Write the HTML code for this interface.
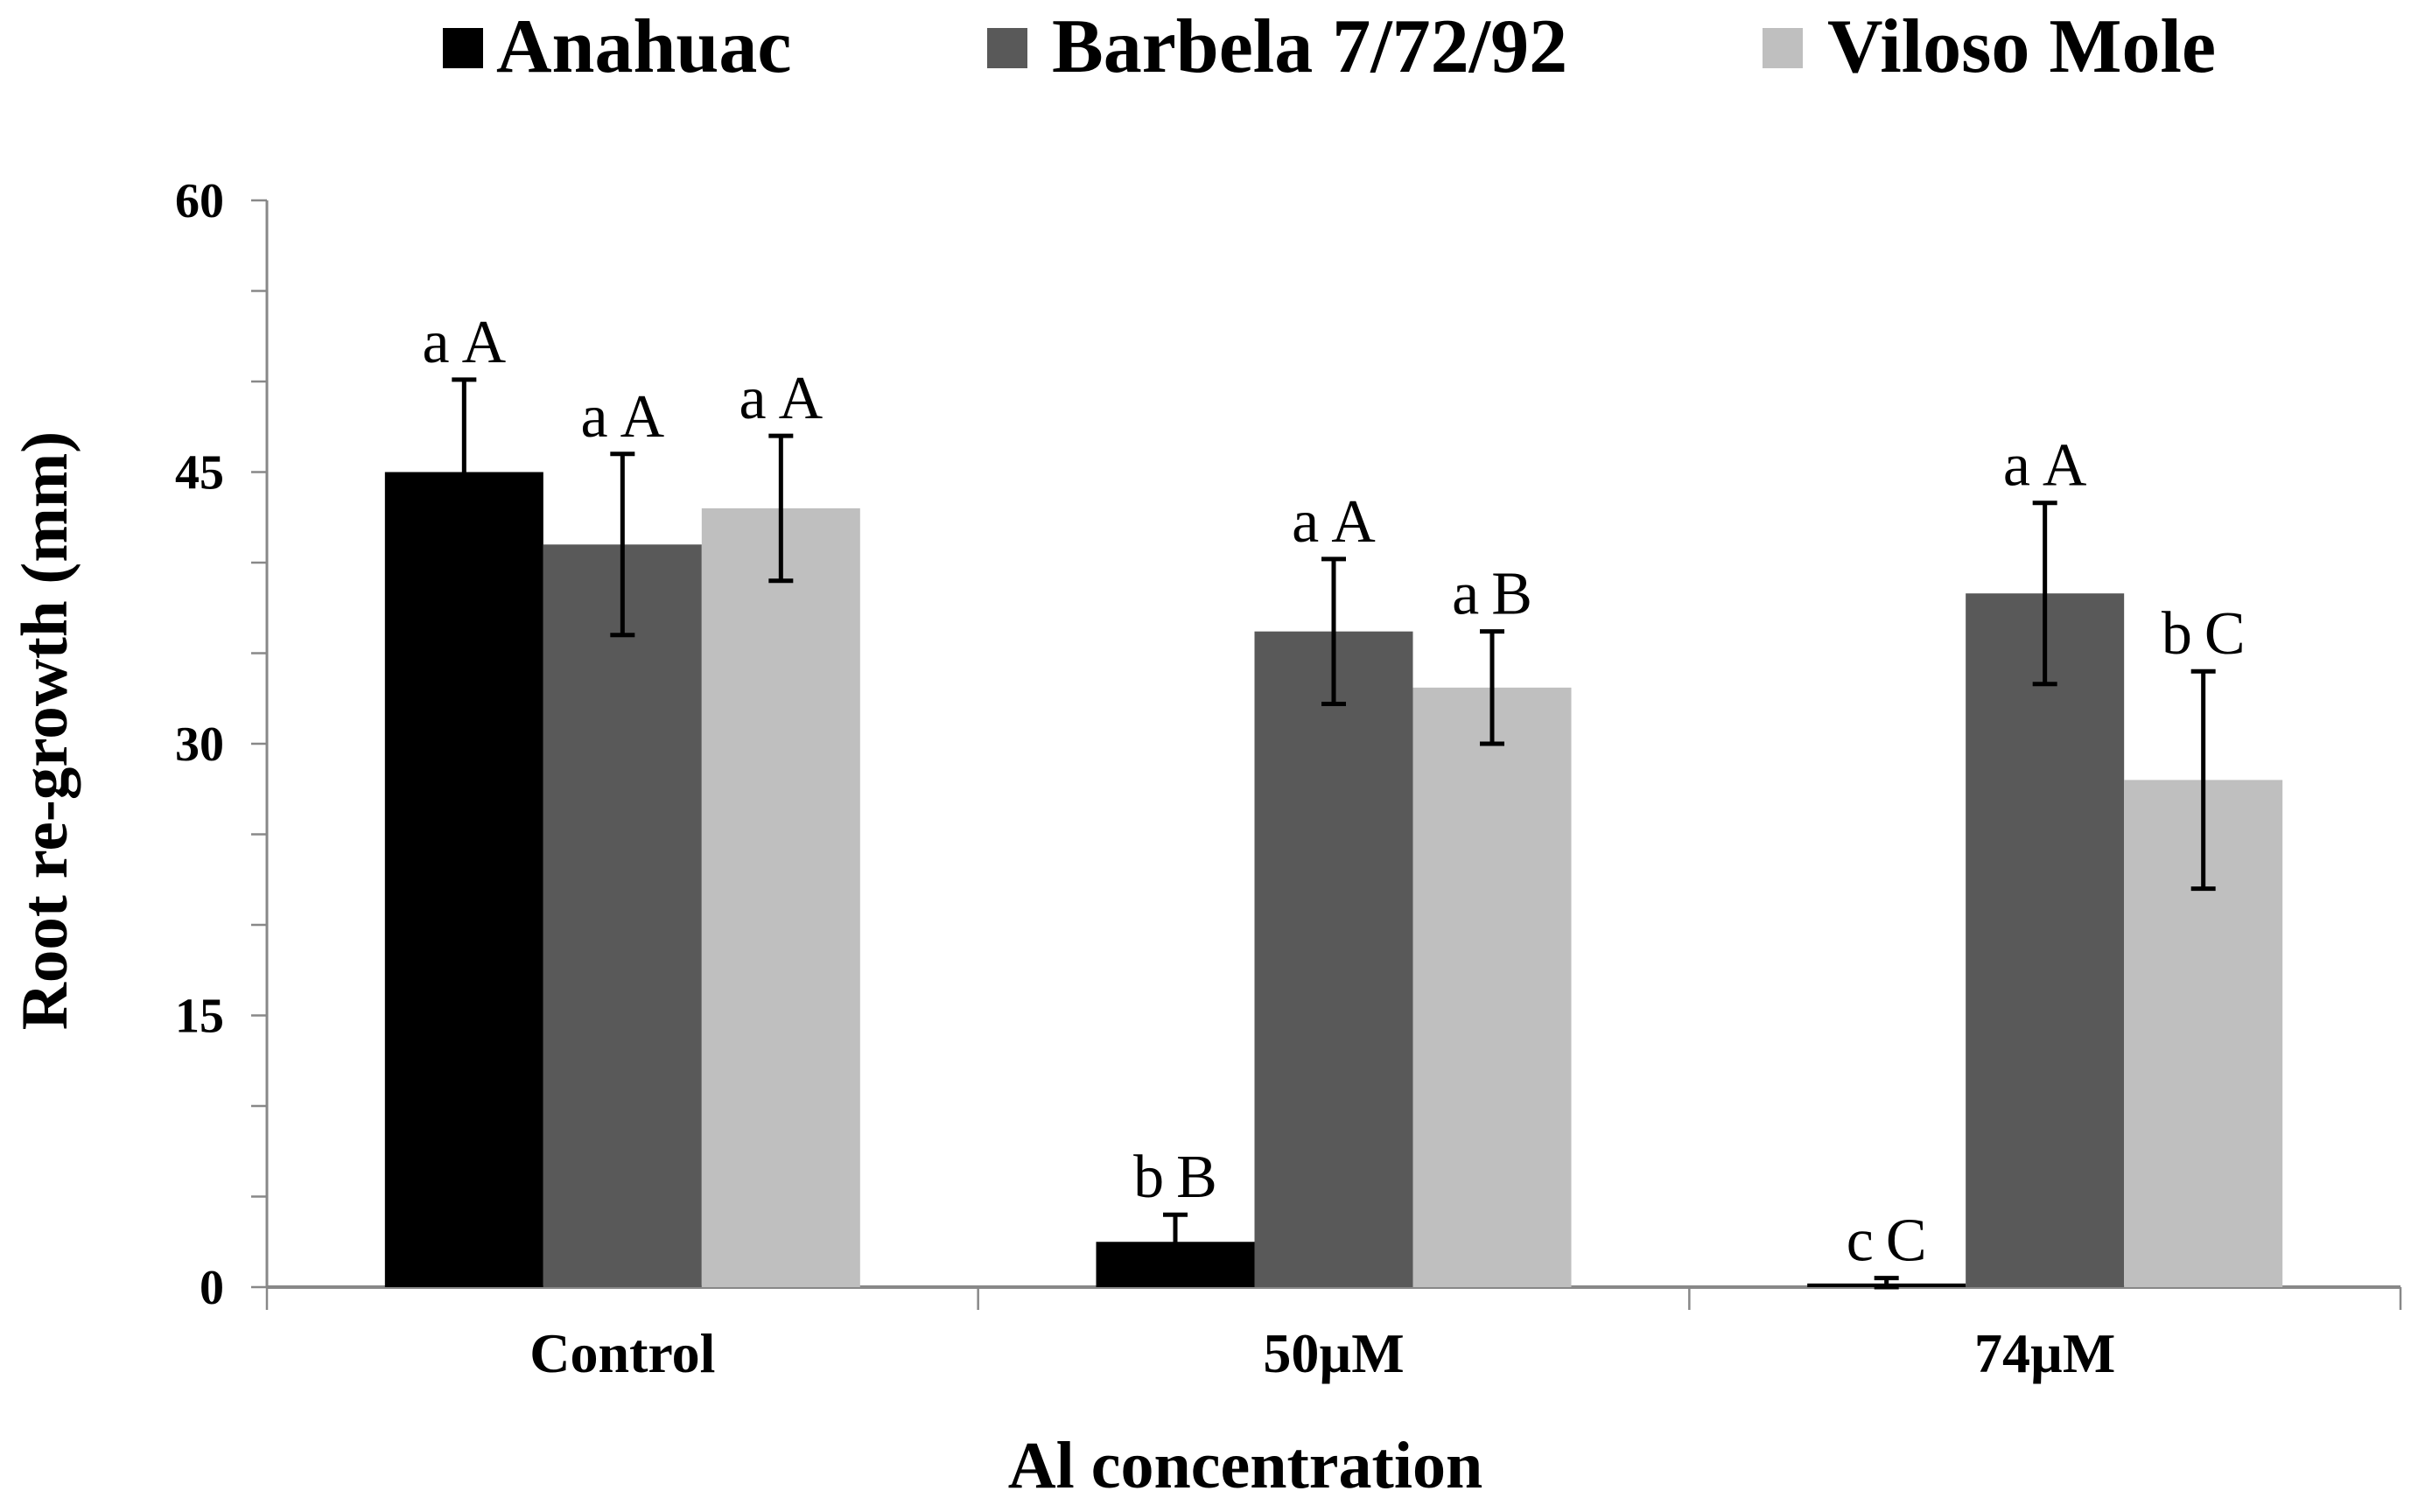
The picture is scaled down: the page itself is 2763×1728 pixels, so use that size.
<!DOCTYPE html>
<html><head><meta charset="utf-8"><style>
html,body{margin:0;padding:0;background:#fff;}
svg{display:block;font-family:"Liberation Serif",serif;}
</style></head><body>
<svg id="chart" width="2763" height="1728" viewBox="0 0 2763 1728" xmlns="http://www.w3.org/2000/svg">
<g id="legend">
 <g><rect x="506" y="32" width="46" height="46" fill="#000"/><text x="567" y="82" font-size="88" font-weight="bold">Anahuac</text></g>
 <g><rect x="1128" y="32" width="46" height="46" fill="#595959"/><text x="1202" y="82" font-size="88" font-weight="bold">Barbela 7/72/92</text></g>
 <g><rect x="2014" y="32" width="46" height="46" fill="#bfbfbf"/><text x="2088" y="82" font-size="88" font-weight="bold">Viloso Mole</text></g>
</g>
<g id="axes"></g>
<g id="bars"></g>
<text transform="translate(76,835) rotate(-90)" text-anchor="middle" font-size="75" font-weight="bold">Root re-growth (mm)</text>
<text x="1423" y="1700" text-anchor="middle" font-size="76" font-weight="bold">Al concentration</text>
</svg>
<script>
const categories = ["Control", "50\u00b5M", "74\u00b5M"];
const seriesNames = ["Anahuac", "Barbela 7/72/92", "Viloso Mole"];
const anahuac = [45, 2.5, 0.2];
const barbela = [41, 36.2, 38.3];
const viloso = [43, 33.1, 28];
const anahuacErr = [5.1, 1.5, 0.3];
const barbelaErr = [5, 4, 5];
const vilosoErr = [4, 3.1, 6];
const anahuacLabels = ["aA", "bB", "cC"];
const barbelaLabels = ["aA", "aA", "aA"];
const vilosoLabels = ["aA", "aB", "bC"];
const yTicks = [0, 15, 30, 45, 60];

const NS = "http://www.w3.org/2000/svg";
const X0 = 305, X1 = 2743, Y0 = 1471, Y60 = 229;
const yScale = v => Y0 - (v / 60) * (Y0 - Y60);
const catW = (X1 - X0) / categories.length;
const barW = 181;
const groupPad = (catW - 3 * barW) / 2;
const barX = (ci, si) => X0 + ci * catW + groupPad + si * barW;
function mk(tag, attrs, parent) {
  const e = document.createElementNS(NS, tag);
  for (const k in attrs) e.setAttribute(k, attrs[k]);
  parent.appendChild(e);
  return e;
}
const axes = document.getElementById('axes');
const barsG = document.getElementById('bars');
const gray = "#888";
let e;
e = mk('line', {x1: X0, y1: Y60, x2: X0, y2: Y0, stroke: gray, 'stroke-width': 3}, axes);


for (let v = 0; v <= 60; v += 5) {
  e = mk('line', {x1: X0 - 18, y1: yScale(v), x2: X0, y2: yScale(v), stroke: gray, 'stroke-width': 2.5}, axes);
  
  
}
yTicks.forEach(v => {
  const t = mk('text', {x: 256, y: yScale(v) + 19, 'text-anchor': 'end', 'font-size': 56, 'font-weight': 'bold'}, axes);
  t.textContent = v;
  
  
});
e = mk('line', {x1: X0, y1: Y0, x2: X1, y2: Y0, stroke: gray, 'stroke-width': 4}, axes);


for (let i = 0; i <= categories.length; i++) {
  e = mk('line', {x1: X0 + i * catW, y1: Y0, x2: X0 + i * catW, y2: Y0 + 26, stroke: gray, 'stroke-width': 2.5}, axes);
  
  
}
categories.forEach((c, i) => {
  const t = mk('text', {x: X0 + (i + 0.5) * catW, y: 1568, 'text-anchor': 'middle', 'font-size': 64, 'font-weight': 'bold'}, axes);
  t.textContent = c;
  
  
});
const series = [
  {vals: anahuac, err: anahuacErr, labels: anahuacLabels, color: '#000', name: 'anahuac'},
  {vals: barbela, err: barbelaErr, labels: barbelaLabels, color: '#595959', name: 'barbela'},
  {vals: viloso, err: vilosoErr, labels: vilosoLabels, color: '#bfbfbf', name: 'viloso'}
];
series.forEach((s, si) => {
  s.vals.forEach((v, ci) => {
    const x = barX(ci, si);
    const r = mk('rect', {x: x, y: yScale(v), width: barW, height: Y0 - yScale(v), fill: s.color}, barsG);
    
    
    const cx = x + barW / 2;
    const top = yScale(v + s.err[ci]), bot = yScale(Math.max(0, v - s.err[ci]));
    const eb = mk('path', {d: `M${cx},${bot}V${top}M${cx - 14},${top}H${cx + 14}M${cx - 14},${bot}H${cx + 14}`, stroke: '#000', 'stroke-width': 5, fill: 'none'}, barsG);
    
    
    const lab = mk('text', {x: cx, y: top - 20, 'text-anchor': 'middle', 'font-size': 70}, barsG);
    lab.textContent = s.labels[ci].split('').join('\u2009');
    
    
  });
});
</script>
</body></html>
